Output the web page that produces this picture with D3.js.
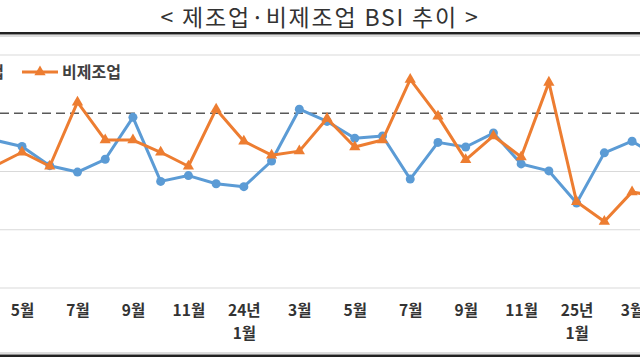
<!DOCTYPE html>
<html><head><meta charset="utf-8">
<script src="https://cdn.jsdelivr.net/npm/d3@7"></script>
<style>html,body{margin:0;padding:0;background:#fff;overflow:hidden}</style>
</head><body>
<svg id="c" width="640" height="360"></svg>
<script>
const months = ["23.4","23.5","23.6","23.7","23.8","23.9","23.10","23.11","23.12","24.1","24.2","24.3","24.4","24.5","24.6","24.7","24.8","24.9","24.10","24.11","24.12","25.1","25.2","25.3","25.4"];
const tickLabels = {"23.5":["5월"],"23.7":["7월"],"23.9":["9월"],"23.11":["11월"],"24.1":["24년","1월"],"24.3":["3월"],"24.5":["5월"],"24.7":["7월"],"24.9":["9월"],"24.11":["11월"],"25.1":["25년","1월"],"25.3":["3월"]};
const manufacturing = [95.4,94.3,91.0,89.9,92.1,99.3,88.3,89.3,87.9,87.4,91.8,100.7,98.6,95.7,96.1,88.7,95.0,94.2,96.6,91.3,90.1,84.6,93.2,95.2,92.3];
const nonManufacturing = [90.9,93.3,90.9,101.9,95.4,95.4,93.3,90.9,100.7,95.2,92.8,93.5,99.1,94.2,95.4,105.8,99.5,92.0,96.1,92.5,105.3,84.8,81.4,86.5,85.6];
const gridValues = [70,80,90,110];
const refValue = 100;
const seriesNames = ["제조업","비제조업"];

const svg = d3.select("#c");
const x = d3.scalePoint().domain(months).range([-5.7, 659.8]);
const y = d3.scaleLinear().domain([70,110]).range([288,55]);

// title
svg.append("text").attr("x",320).attr("y",26).attr("text-anchor","middle")
  .attr("font-family","'Noto Sans CJK KR','Noto Sans',sans-serif").attr("font-size",23)
  .attr("letter-spacing",1.8).attr("fill","#333").text("< 제조업·비제조업 BSI 추이 >");
svg.append("rect").attr("x",0).attr("y",32).attr("width",640).attr("height",2.5).attr("fill","#222");
svg.append("rect").attr("x",0).attr("y",35.5).attr("width",640).attr("height",1).attr("fill","#bbb");
svg.append("rect").attr("x",0).attr("y",354.5).attr("width",640).attr("height",2.5).attr("fill","#222");
svg.append("rect").attr("x",0).attr("y",352.5).attr("width",640).attr("height",1).attr("fill","#bbb");

// grid
svg.append("g").selectAll("line").data(gridValues).join("line")
  .attr("x1",0).attr("x2",640).attr("y1",d=>y(d)).attr("y2",d=>y(d))
  .attr("stroke","#d9d9d9").attr("stroke-width",1.2);
svg.append("line").attr("x1",0).attr("x2",640).attr("y1",y(refValue)).attr("y2",y(refValue))
  .attr("stroke","#595959").attr("stroke-width",1.6).attr("stroke-dasharray","9,5");

// x axis labels
const axis = d3.axisBottom(x).tickValues(Object.keys(tickLabels)).tickSize(0).tickFormat("");
const ag = svg.append("g").attr("transform","translate(0,288)").call(axis);
ag.select(".domain").remove();
ag.selectAll(".tick").each(function(d){
  const t = d3.select(this).append("text").attr("fill","#333")
    .attr("font-family","'Noto Sans CJK KR',sans-serif").attr("font-weight","bold")
    .attr("font-size",15.5).attr("text-anchor","middle");
  tickLabels[d].forEach((s,i)=>t.append("tspan").attr("x",0).attr("y",28+i*23).text(s));
});

const line = d3.line().x((d,i)=>x(months[i])).y(d=>y(d));
const blue = "#5B9BD5", orange = "#ED7D31";
svg.append("path").datum(manufacturing).attr("d",line).attr("fill","none").attr("stroke",blue).attr("stroke-width",3).attr("stroke-linejoin","round");
svg.append("g").selectAll("circle").data(manufacturing).join("circle")
  .attr("cx",(d,i)=>x(months[i])).attr("cy",d=>y(d)).attr("r",4.5).attr("fill",blue);
svg.append("path").datum(nonManufacturing).attr("d",line).attr("fill","none").attr("stroke",orange).attr("stroke-width",3).attr("stroke-linejoin","round");
const tri = d3.symbol().type(d3.symbolTriangle).size(55);
svg.append("g").selectAll("path").data(nonManufacturing).join("path")
  .attr("d",tri).attr("transform",(d,i)=>`translate(${x(months[i])},${y(d)})`).attr("fill",orange);

// legend
const lf = "'Noto Sans CJK KR',sans-serif";
svg.append("text").attr("x",4).attr("y",78).attr("text-anchor","end").attr("font-family",lf)
  .attr("font-weight","bold").attr("font-size",16).attr("fill","#404040").text(seriesNames[0]);
svg.append("line").attr("x1",22).attr("x2",58).attr("y1",72).attr("y2",72).attr("stroke",orange).attr("stroke-width",3);
svg.append("path").attr("d",tri).attr("transform","translate(40,72)").attr("fill",orange);
svg.append("text").attr("x",62).attr("y",78).attr("font-family",lf)
  .attr("font-weight","bold").attr("font-size",16).attr("fill","#404040").text(seriesNames[1]);
</script>
</body></html>
